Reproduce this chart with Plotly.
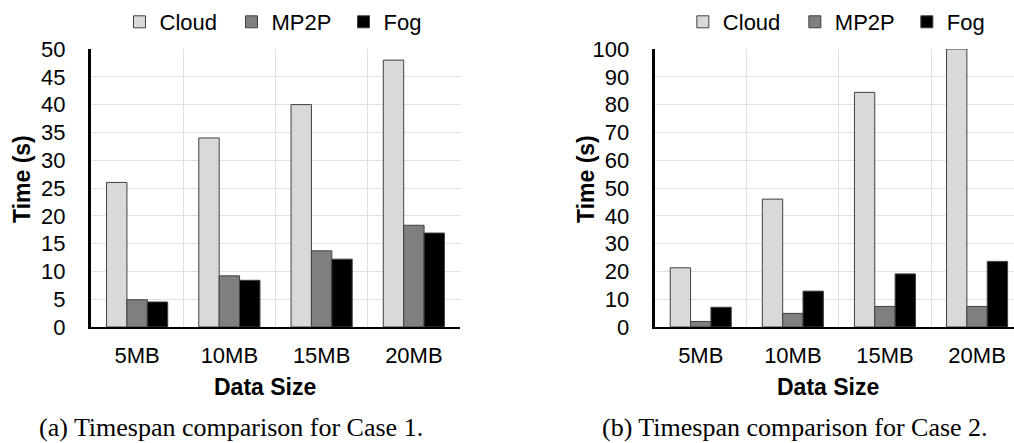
import plotly.graph_objects as go

# Data
sizes = ["5MB", "10MB", "15MB", "20MB"]
series_names = ["Cloud", "MP2P", "Fog"]
case1_cloud = [26, 34, 40, 48]
case1_mp2p = [4.9, 9.2, 13.7, 18.3]
case1_fog = [4.5, 8.4, 12.2, 16.9]
case2_cloud = [21.3, 46, 84.4, 100]
case2_mp2p = [2.0, 4.9, 7.4, 7.4]
case2_fog = [7.1, 12.9, 19.1, 23.6]
y_ticks_1 = [0, 5, 10, 15, 20, 25, 30, 35, 40, 45, 50]
y_ticks_2 = [0, 10, 20, 30, 40, 50, 60, 70, 80, 90, 100]
captions = ["(a) Timespan comparison for Case 1.", "(b) Timespan comparison for Case 2."]

W, H = 1014, 443
SANS = "Liberation Sans, Arial, sans-serif"
SERIF = "Liberation Serif, Times New Roman, serif"
fills = ["#d9d9d9", "#7f7f7f", "#000000"]
outline = "#404040"
grid = "#e0e0e0"


def px(x):
    return x / W


def py(y):
    return 1 - y / H


fig = go.Figure()

panels = [
    ("x", "y", "legend", [case1_cloud, case1_mp2p, case1_fog]),
    ("x2", "y2", "legend2", [case2_cloud, case2_mp2p, case2_fog]),
]
for xa, ya, leg, vals in panels:
    for name, v, c in zip(series_names, vals, fills):
        fig.add_trace(go.Bar(
            x=sizes, y=v, name=name, xaxis=xa, yaxis=ya, legend=leg,
            marker=dict(color=c, line=dict(color=outline, width=1)),
        ))

tick_font = dict(family=SANS, size=22, color="#000")

xcommon = dict(
    type="category", tickson="boundaries", showgrid=True, gridcolor=grid, gridwidth=1,
    showline=True, linecolor="#000", linewidth=2, ticks="", tickfont=tick_font,
    ticklabelstandoff=8, zeroline=False, automargin=False,
)
ycommon = dict(
    showgrid=True, gridcolor=grid, gridwidth=1, showline=True, linecolor="#000",
    linewidth=3, ticks="", tickfont=tick_font, ticklabelstandoff=18, zeroline=False,
    automargin=False,
)

x1_dom = [px(91), px(460)]
x2_dom = [px(654.7), 1.0]
y_dom = [py(327), py(49)]

legend_common = dict(
    orientation="h", xanchor="center", yanchor="middle", y=py(22),
    font=dict(family=SANS, size=22, color="#000"), bgcolor="rgba(0,0,0,0)",
    entrywidth=67, entrywidthmode="pixels", itemclick=False,
)

fig.update_layout(
    width=W, height=H, margin=dict(l=0, r=0, t=0, b=0, autoexpand=False),
    paper_bgcolor="white", plot_bgcolor="white",
    barmode="group", bargap=0.337, bargroupgap=0,
    xaxis=dict(domain=x1_dom, anchor="y", range=[-0.5, 3.5], **xcommon),
    yaxis=dict(domain=y_dom, anchor="x", range=[0, 50], tickvals=y_ticks_1, **ycommon),
    xaxis2=dict(domain=x2_dom, anchor="y2", range=[-0.5, 3.401], **xcommon),
    yaxis2=dict(domain=y_dom, anchor="x2", range=[0, 100], tickvals=y_ticks_2, **ycommon),
    legend=dict(x=px((91 + 460) / 2 + 12), **legend_common),
    legend2=dict(x=px((654.7 + 1023) / 2 + 12), **legend_common),
    showlegend=True,
)

title_font = dict(family=SANS, size=23, color="#000")
ann = []
# axis titles
for xc in (265, 828):
    ann.append(dict(text="<b>Data Size</b>", x=px(xc), y=py(387), xref="paper", yref="paper",
                    showarrow=False, xanchor="center", yanchor="middle", font=title_font))
for xc in (22, 586):
    ann.append(dict(text="<b>Time (s)</b>", x=px(xc), y=py(179), xref="paper", yref="paper",
                    showarrow=False, xanchor="center", yanchor="middle", textangle=-90,
                    font=title_font))
# sub-figure captions, anchored to the bottom edge of the figure
for xc, cap in zip((231, 794.5), captions):
    ann.append(dict(text=cap, x=px(xc), y=0, xref="paper", yref="paper",
                    showarrow=False, xanchor="center", yanchor="bottom", borderpad=0,
                    font=dict(family=SERIF, size=26, color="#000")))
fig.update_layout(annotations=ann)

fig.write_html("out.html")
